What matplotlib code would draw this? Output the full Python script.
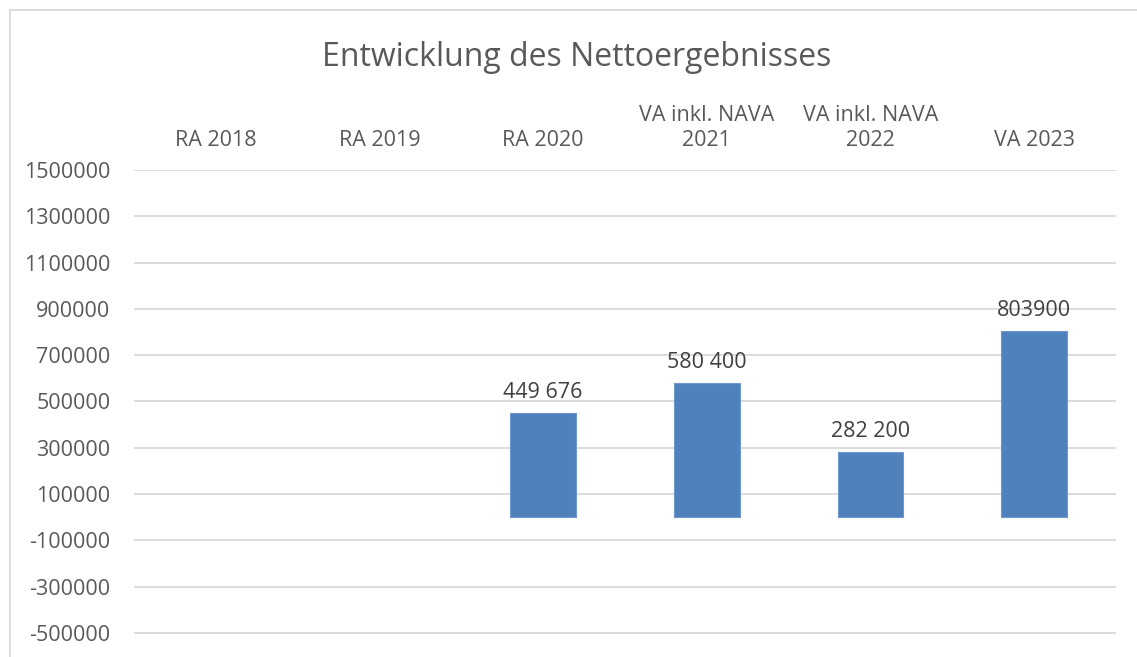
import matplotlib
matplotlib.use('Agg')
import matplotlib.pyplot as plt
import numpy as np

# Daten
categories = ["RA 2018", "RA 2019", "RA 2020", "VA inkl. NAVA\n2021", "VA inkl. NAVA\n2022", "VA 2023"]
values = [np.nan, np.nan, 449676, 580400, 282200, 803900]
value_labels = ["", "", "449 676", "580 400", "282 200", "803900"]
yticks = list(range(-500000, 1500001, 200000))

plt.rcParams['font.family'] = ['Open Sans', 'DejaVu Sans']
text_col = '#595959'

W, H = 1137, 657
fig = plt.figure(figsize=(W / 100, H / 100), dpi=100)
ax = fig.add_axes([134 / W, 0, (1116 - 134) / W, (H - 170) / H])

x = np.arange(len(categories))
ax.bar(x, values, width=0.4, color='#4F81BD', edgecolor='#6F98CC', linewidth=0.8, zorder=3)
for xi, v, lab in zip(x, values, value_labels):
    if lab:
        ax.annotate(lab, (xi, v), xytext=(0, 7), textcoords='offset points',
                    ha='center', va='bottom', fontsize=15.5, color='#404040')

ax.set_xlim(-0.5, len(categories) - 0.5)
ax.set_ylim(-603700, 1500000)
ax.set_yticks(yticks)
ax.set_yticklabels([str(t) for t in yticks])
ax.set_xticks(x)
ax.set_xticklabels(categories, linespacing=1.2)
ax.xaxis.tick_top()
ax.tick_params(axis='x', length=0, pad=14, labelsize=15.5, labelcolor=text_col)
ax.tick_params(axis='y', length=0, pad=17, labelsize=15.5, labelcolor=text_col)
for s in ax.spines.values():
    s.set_visible(False)
ax.grid(True, axis='y', color='#d9d9d9', linewidth=1.3, zorder=0)

fig.text(577 / W, 1 - 57 / H, "Entwicklung des Nettoergebnisses", ha='center', va='center',
         fontsize=23, color=text_col)

# Rahmen
fig.add_artist(plt.Line2D([9.5 / W, 9.5 / W], [0, 1 - 9.5 / H], color='#d9d9d9', linewidth=1.3))
fig.add_artist(plt.Line2D([9.5 / W, 1], [1 - 9.5 / H, 1 - 9.5 / H], color='#d9d9d9', linewidth=1.3))

plt.savefig("out.png", dpi=100)
